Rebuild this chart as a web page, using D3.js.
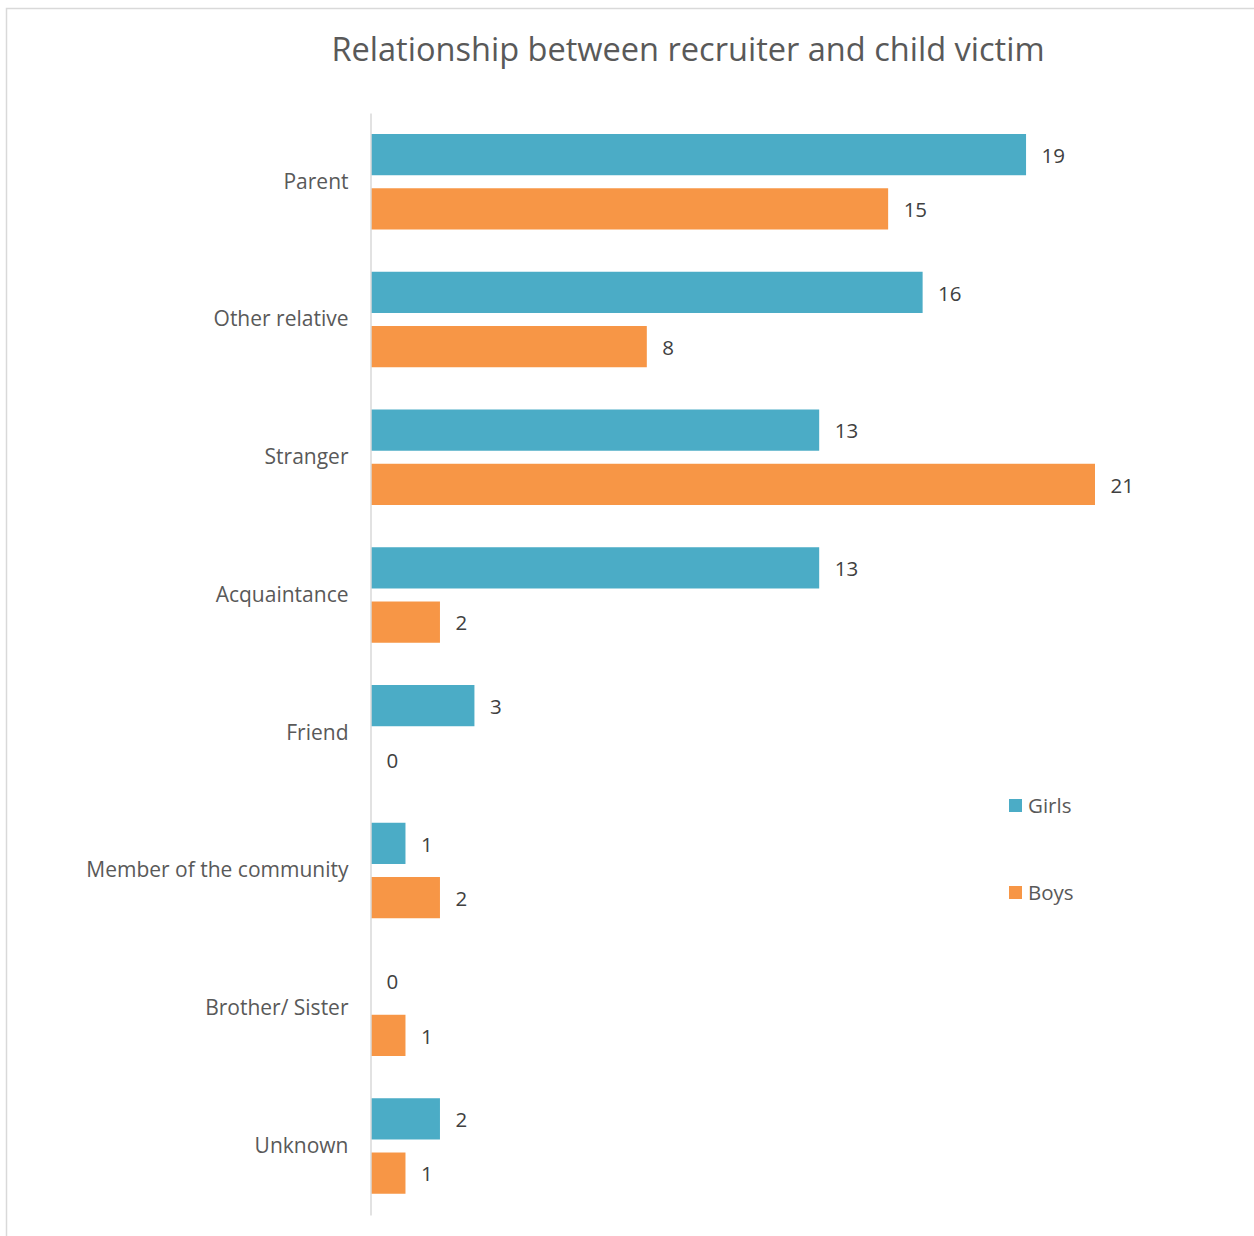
<!DOCTYPE html>
<html><head><meta charset="utf-8">
<script src="https://cdn.jsdelivr.net/npm/d3@7/dist/d3.min.js"></script>
<style>body{margin:0;background:#fff;} text{font-family:"Open Sans","Noto Sans",sans-serif;}</style>
</head><body>
<svg id="chart" width="1254" height="1236"></svg>
<script>
const categories = ["Parent","Other relative","Stranger","Acquaintance","Friend","Member of the community","Brother/ Sister","Unknown"];
const seriesNames = ["Girls","Boys"];
const girls = [19,16,13,13,3,1,0,2];
const boys = [15,8,21,2,0,2,1,1];
const colors = ["#4BACC6","#F79646"];
const title = "Relationship between recruiter and child victim";

const svg = d3.select("#chart");
svg.append("rect").attr("x",6.5).attr("y",8.5).attr("width",1260).attr("height",1240)
  .attr("fill","none").attr("stroke","#d9d9d9").attr("stroke-width",1.5);

function fitText(sel, target){
  let fs = parseFloat(sel.attr("font-size"));
  for(let i=0;i<4;i++){
    const w = sel.node().getComputedTextLength();
    if(w>0){ fs = fs*target/w; sel.attr("font-size",fs); }
  }
}

const t = svg.append("text").attr("x",688).attr("y",61).attr("text-anchor","middle")
  .attr("font-size",30).attr("fill","#595959").text(title);
fitText(t, 713);

const x = d3.scaleLinear().domain([0,21]).range([371,1095]);
const y = d3.scaleBand().domain(categories).range([113,1215]).paddingInner(0).paddingOuter(0);
const sub = d3.scaleBand().domain(seriesNames).range([21,116.5]).paddingInner(0.24);

const data = categories.map((c,i)=>({cat:c, vals:[girls[i],boys[i]]}));

const g = svg.append("g");
data.forEach(d=>{
  d.vals.forEach((v,j)=>{
    const yy = y(d.cat)+sub(seriesNames[j]);
    g.append("rect").attr("x",x(0)).attr("y",yy).attr("width",x(v)-x(0)).attr("height",sub.bandwidth())
      .attr("fill",colors[j]);
    g.append("text").attr("x",x(v)+15.5).attr("y",yy+sub.bandwidth()/2+1).attr("dy","0.35em")
      .attr("font-size",20.5).attr("fill","#404040").text(v);
  });
});

// axis
const axis = d3.axisLeft(y).tickSize(0).tickPadding(22);
const ag = svg.append("g").attr("transform",`translate(${x(0)-0.5},0)`).call(axis);
ag.select(".domain").attr("stroke","#d9d9d9").attr("stroke-width",1.5);
ag.selectAll("text").attr("font-size",21).attr("fill","#595959").style("font-family","'Open Sans','Noto Sans',sans-serif");

// legend
const leg = svg.append("g");
seriesNames.forEach((s,i)=>{
  const ly = 799 + i*87;
  leg.append("rect").attr("x",1009).attr("y",ly).attr("width",13).attr("height",13).attr("fill",colors[i]);
  leg.append("text").attr("x",1028).attr("y",ly+7).attr("dy","0.35em").attr("font-size",20.5).attr("fill","#595959").text(s);
});
</script>
</body></html>
